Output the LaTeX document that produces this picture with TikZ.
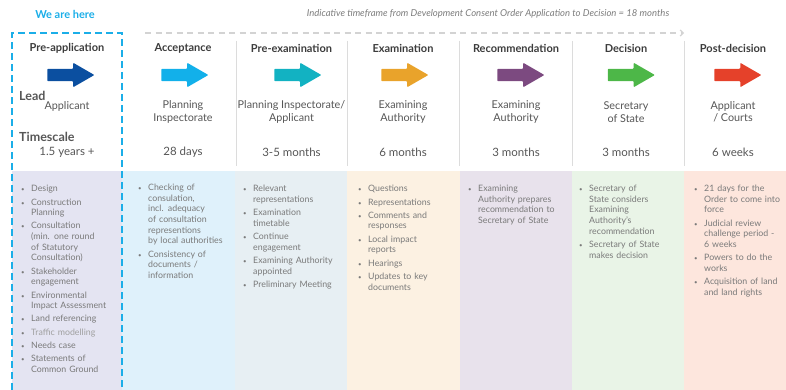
\documentclass[tikz,border=0pt]{standalone}
\usepackage{fontspec}
\setmainfont{Lato}
\usepackage{enumitem}
\usepackage{tikz}
\usetikzlibrary{arrows.meta,shapes.arrows}

\definecolor{herecyan}{HTML}{1BAEE8}
\definecolor{titlegray}{HTML}{3C3C3C}
\definecolor{textgray}{HTML}{565656}
\definecolor{listgray}{HTML}{7A7A7A}
\definecolor{faintgray}{HTML}{A0A0A0}
\definecolor{notegray}{HTML}{7C7C7C}
\definecolor{divgray}{HTML}{DCDCDC}
\definecolor{linegray}{HTML}{D3D3D3}
% arrow colours
\definecolor{preappblue}{HTML}{0B4FA0}
\definecolor{acceptcyan}{HTML}{12B0EA}
\definecolor{preexamteal}{HTML}{12B2C2}
\definecolor{examorange}{HTML}{E9A32B}
\definecolor{recompurple}{HTML}{7C4A80}
\definecolor{decisiongreen}{HTML}{4DB748}
\definecolor{postred}{HTML}{E5412A}
% panel colours
\definecolor{bgpreapp}{HTML}{E4E4F2}
\definecolor{bgaccept}{HTML}{DFF1FB}
\definecolor{bgpreexam}{HTML}{E7EFF3}
\definecolor{bgexam}{HTML}{FCF1E2}
\definecolor{bgrecomm}{HTML}{E8E2EC}
\definecolor{bgdecision}{HTML}{E9F4E7}
\definecolor{bgpost}{HTML}{FDE6DD}

\setlist[itemize]{
    label={\fontsize{6}{6}\selectfont\textbullet},
    leftmargin=10pt,
    labelsep=6.5pt,
    topsep=0pt,
    partopsep=0pt,
    parsep=0pt,
    itemsep=2.7pt
}

\begin{document}
\begin{tikzpicture}[
    x=1pt, y=-1pt,
    >=Stealth,
    phase/.style={font=\fontsize{11}{13}\selectfont\bfseries, text=titlegray, inner sep=0pt},
    phasearrow/.style={single arrow, single arrow head extend=6pt, single arrow tip angle=60,
        minimum width=24pt, minimum height=47pt, inner xsep=0pt, inner ysep=6pt,
        fill=#1, rounded corners=0.8pt},
    who/.style={font=\fontsize{10.8}{12.3}\selectfont, text=textgray, align=center, inner sep=0pt},
    howlong/.style={font=\fontsize{11.5}{13}\selectfont, text=textgray, inner sep=0pt},
    rowlabel/.style={font=\fontsize{12.5}{14}\selectfont\bfseries, text=textgray, anchor=west, inner sep=0pt},
    steps/.style={font=\fontsize{8.8}{10.6}\selectfont, text=listgray, text width=105pt,
        anchor=north west, inner sep=0pt},
    divider/.style={draw=divgray, line width=0.9pt}
]

\useasboundingbox (0,0) rectangle (786,390);

% Paneles de fondo
\fill[bgpreapp]   (12,171)  rectangle (122,390);
\fill[bgaccept]   (122,171) rectangle (235,390);
\fill[bgpreexam]  (235,171) rectangle (347,390);
\fill[bgexam]     (347,171) rectangle (460,390);
\fill[bgrecomm]   (460,171) rectangle (572,390);
\fill[bgdecision] (572,171) rectangle (684,390);
\fill[bgpost]     (684,171) rectangle (786,390);

% Separadores
\draw[divider] (236,41) -- (236,166);
\draw[divider] (347,41) -- (347,166);
\draw[divider] (459,41) -- (459,166);
\draw[divider] (572,41) -- (572,166);
\draw[divider] (684,41) -- (684,166);

% Cabecera
\node[font=\fontsize{11}{13}\selectfont\bfseries, text=herecyan, inner sep=0pt]
    (here) at (65,14) {We are here};
\node[font=\fontsize{9.5}{11}\selectfont\itshape, text=notegray, inner sep=0pt]
    (note) at (488,14) {Indicative timeframe from Development Consent Order Application to Decision = 18 months};

% Linea de tiempo
\coordinate (tlstart) at (145,33);
\coordinate (tlend) at (684,33);
\draw[
    linegray,
    line width=1.6pt,
    dash pattern=on 6pt off 4.5pt,
    -{Straight Barb[length=3pt, width=6pt, line width=1.2pt]}
] (tlstart) -- (tlend);

% Pre-application
\node[phase] (preapptitle) at (67,48) {Pre-application};
\node[phasearrow=preappblue] (preapparrow) at (65.5,75) {};
\node[rowlabel] (leadlabel) at (19,96) {Lead};
\node[who] (preapplead) at (67,106) {Applicant};
\node[rowlabel] (timelabel) at (19,137) {Timescale};
\node[howlong] (preapptime) at (67,152) {1.5 years +};
\node[steps] (preappsteps) at (21,181) {%
\begin{itemize}
\item Design
\item Construction\\Planning
\item Consultation\\(min. one round\\of Statutory\\Consultation)
\item Stakeholder\\engagement
\item Environmental\\Impact Assessment
\item Land referencing
\item {\color{faintgray}Traffic modelling}
\item Needs case
\item Statements of\\Common Ground
\end{itemize}};

% Acceptance
\node[phase] (accepttitle) at (183,48) {Acceptance};
\node[phasearrow=acceptcyan] (acceptarrow) at (179.5,75) {};
\node[who] (acceptlead) at (183,112) {Planning\\Inspectorate};
\node[howlong] (accepttime) at (183,152) {28 days};
\node[steps] (acceptsteps) at (138,180) {%
\begin{itemize}
\item Checking of\\consulation,\\incl. adequacy\\of consultation\\representions\\by local authorities
\item Consistency of\\documents /\\information
\end{itemize}};

% Pre-examination
\node[phase] (preexamtitle) at (291.5,48) {Pre-examination};
\node[phasearrow=preexamteal] (preexamarrow) at (292.5,75) {};
\node[who] (preexamlead) at (291.5,112) {Planning Inspectorate/\\Applicant};
\node[howlong] (preexamtime) at (291.5,152) {3-5 months};
\node[steps] (preexamsteps) at (243,181) {%
\begin{itemize}
\item Relevant\\representations
\item Examination\\timetable
\item Continue\\engagement
\item Examining Authority\\appointed
\item Preliminary Meeting
\end{itemize}};

% Examination
\node[phase] (examtitle) at (403,48) {Examination};
\node[phasearrow=examorange] (examarrow) at (399.5,75) {};
\node[who] (examlead) at (403,112) {Examining\\Authority};
\node[howlong] (examtime) at (403,152) {6 months};
\node[steps] (examsteps) at (358,181) {%
\begin{itemize}
\item Questions
\item Representations
\item Comments and\\responses
\item Local impact\\reports
\item Hearings
\item Updates to key\\documents
\end{itemize}};

% Recommendation
\node[phase] (recommtitle) at (516,48) {Recommendation};
\node[phasearrow=recompurple] (recommarrow) at (515.5,75) {};
\node[who] (recommlead) at (516,112) {Examining\\Authority};
\node[howlong] (recommtime) at (516,152) {3 months};
\node[steps] (recommsteps) at (468,181) {%
\begin{itemize}
\item Examining\\Authority prepares\\recommendation to\\Secretary of State
\end{itemize}};

% Decision
\node[phase] (decisiontitle) at (626,48) {Decision};
\node[phasearrow=decisiongreen] (decisionarrow) at (626,75) {};
\node[who] (decisionlead) at (626,112) {Secretary\\of State};
\node[howlong] (decisiontime) at (626,152) {3 months};
\node[steps] (decisionsteps) at (579,181) {%
\begin{itemize}
\item Secretary of\\State considers\\Examining\\Authority’s\\recommendation
\item Secretary of State\\makes decision
\end{itemize}};

% Post-decision
\node[phase] (posttitle) at (733,48) {Post-decision};
\node[phasearrow=postred] (postarrow) at (732.5,75) {};
\node[who] (postlead) at (733,112) {Applicant\\/ Courts};
\node[howlong] (posttime) at (733,152) {6 weeks};
\node[steps] (poststeps) at (694,181) {%
\begin{itemize}
\item 21 days for the\\Order to come into\\force
\item Judicial review\\challenge period -\\6 weeks
\item Powers to do the\\works
\item Acquisition of land\\and land rights
\end{itemize}};

% Recuadro "we are here"
\draw[
    herecyan,
    line width=2.2pt,
    dash pattern=on 7pt off 4pt
] (12,390) -- (12,33) -- (122,33) -- (122,390);

\end{tikzpicture}
\end{document}
